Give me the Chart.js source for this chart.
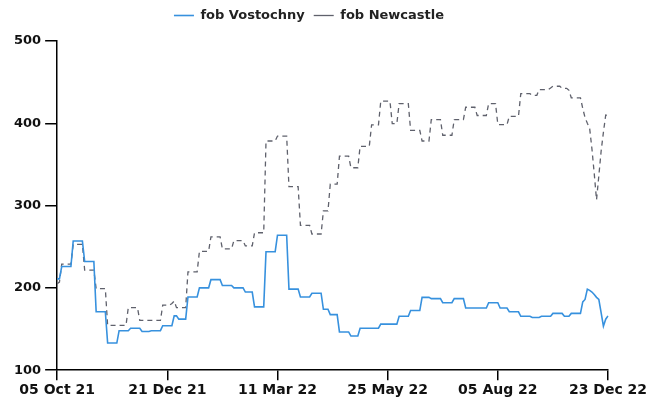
<!DOCTYPE html>
<html>
<head>
<meta charset="utf-8">
<script src="https://cdn.jsdelivr.net/npm/chart.js@4"></script>
<style>
html,body{margin:0;padding:0;background:#fff;}
#wrap{width:661px;height:403px;position:relative;}
</style>
</head>
<body>
<div id="wrap"><canvas id="c"></canvas></div>
<script>
const seriesNames = ['fob Vostochny', 'fob Newcastle'];
const tickLabels = ['05 Oct 21', '21 Dec 21', '11 Mar 22', '25 May 22', '05 Aug 22', '23 Dec 22'];
const tickIndex = [0, 48, 96, 144, 192, 240];

const vostochny = [
211,211,226,226,226,226,226,257,257,257,
257,257,232,232,232,232,232,171,171,171,
171,171,133,133,133,133,133,148,148,148,
148,148,151,151,151,151,151,147,147,147,
147,148,148,148,148,148,154,154,154,154,
154,166,166,162,162,162,162,189,189,189,
189,189,200,200,200,200,200,210,210,210,
210,210,203,203,203,203,203,200,200,200,
200,200,195,195,195,195,177,177,177,177,
177,244,244,244,244,244,264,264,264,264,
264,198.5,198.5,198.5,198.5,198.5,189,189,189,189,
189,193.5,193.5,193.5,193.5,193.5,174,174,174,167.5,
167.5,167.5,167.5,146.5,146.5,146.5,146.5,146.5,141.5,141.5,
141.5,141.5,151,151,151,151,151,151,151,151,
151,156,156,156,156,156,156,156,156,165.5,
165.5,165.5,165.5,165.5,172.5,172.5,172.5,172.5,172.5,188.5,
188.5,188.5,188.5,187,187,187,187,187,182,182,
182,182,182,187,187,187,187,187,175.5,175.5,
175.5,175.5,175.5,175.5,175.5,175.5,175.5,175.5,182,182,
182,182,182,175.5,175.5,175.5,175.5,171,171,171,
171,171,165.5,165.5,165.5,165.5,165.5,164,164,164,
164,165.5,165.5,165.5,165.5,165.5,169,169,169,169,
169,165.5,165.5,165.5,169,169,169,169,169,183,
186,198.5,197,195,192,188.5,186,170,153.5,162,
166
];

const newcastle = [
205,207,229,229,229,229,229,253,253,253,
253,253,221.5,221.5,221.5,221.5,221.5,199,199,199,
199,199,154.5,154.5,154.5,154.5,154.5,154.5,154.5,154.5,
154.5,176,176,176,176,176,160.5,160.5,160.5,160.5,
160.5,160.5,160.5,160.5,160.5,160.5,179,179,179,179,
181,184,176,176,176,176,176,219.5,219.5,219.5,
219.5,219.5,244.5,244.5,244.5,244.5,244.5,262,262,262,
262,262,247.5,247.5,247.5,247.5,247.5,257.5,257.5,257.5,
257.5,257.5,251,251,251,251,267,267,267,267,
267,378.5,378.5,378.5,378.5,378.5,384.5,384.5,384.5,384.5,
384.5,323,323,323,323,323,276,276,276,276,
276,265.5,265.5,265.5,265.5,265.5,293.5,293.5,293.5,326,
326,326,326,360,360,360,360,360,346,346,
346,346,372,372,372,372,372,398,398,398,
398,427,427,427,427,427,399.5,399.5,399.5,424,
424,424,424,424,391.5,391.5,391.5,391.5,391.5,378.5,
378.5,378.5,378.5,404.5,404.5,404.5,404.5,404.5,385.5,385.5,
385.5,385.5,385.5,404.5,404.5,404.5,404.5,404.5,419.5,419.5,
419.5,419.5,419.5,409.5,409.5,409.5,409.5,409.5,424,424,
424,424,398.5,398.5,398.5,398.5,398.5,408.5,408.5,408.5,
408.5,408.5,436,436,436,436,436,434,434,434,
441,441,441,441,441,443,445,445,445,445,
442.5,442.5,442.5,440,431,431,431,431,431,418,
407,400,394,369,339,307,336,366,389,410,
409
];

const categories = vostochny.map((_, i) => i);

const FONT = "'DejaVu Sans', sans-serif";

const legendSpacer = {
  id: 'legendSpacer',
  beforeInit(chart) {
    const origFit = chart.legend.fit;
    chart.legend.fit = function () {
      origFit.call(this);
      this.height += 9;
    };
  }
};

new Chart(document.getElementById('c'), {
  type: 'line',
  data: {
    labels: categories,
    datasets: [
      {
        label: seriesNames[0],
        data: vostochny,
        borderColor: 'rgb(55,145,222)',
        backgroundColor: 'rgb(55,145,222)',
        borderWidth: 1.6,
        pointRadius: 0,
        tension: 0,
        fill: false
      },
      {
        label: seriesNames[1],
        data: newcastle,
        borderColor: 'rgb(95,97,108)',
        backgroundColor: 'rgb(95,97,108)',
        borderWidth: 1.3,
        borderDash: [5, 4],
        pointRadius: 0,
        tension: 0,
        fill: false
      }
    ]
  },
  options: {
    responsive: true,
    maintainAspectRatio: false,
    animation: false,
    layout: { padding: { left: 10, right: 53, top: 0, bottom: 2 } },
    plugins: {
      legend: {
        position: 'top',
        labels: {
          usePointStyle: true,
          pointStyle: 'line',
          pointStyleWidth: 20,
          boxWidth: 20,
          padding: 9,
          color: '#222',
          font: { family: FONT, size: 13, weight: 'bold' }
        }
      },
      tooltip: { enabled: false }
    },
    scales: {
      x: {
        type: 'category',
        offset: false,
        grid: { drawOnChartArea: false, drawTicks: true, tickLength: 10, color: '#000', lineWidth: 1.5 },
        border: { display: true, color: '#000', width: 1.5 },
        ticks: {
          autoSkip: false,
          maxRotation: 0,
          minRotation: 0,
          padding: 2,
          color: '#111',
          font: { family: FONT, size: 14, weight: 'bold' },
          callback: function (v, i) {
            const k = tickIndex.indexOf(i);
            return k >= 0 ? tickLabels[k] : null;
          }
        }
      },
      y: {
        min: 100,
        max: 500,
        grid: { drawOnChartArea: false, drawTicks: true, tickLength: 12, color: '#000', lineWidth: 1.5 },
        border: { display: true, color: '#000', width: 1.5 },
        ticks: {
          stepSize: 100,
          padding: 4,
          color: '#111',
          font: { family: FONT, size: 13, weight: 'bold' }
        }
      }
    }
  },
  plugins: [legendSpacer]
});
</script>
</body>
</html>
